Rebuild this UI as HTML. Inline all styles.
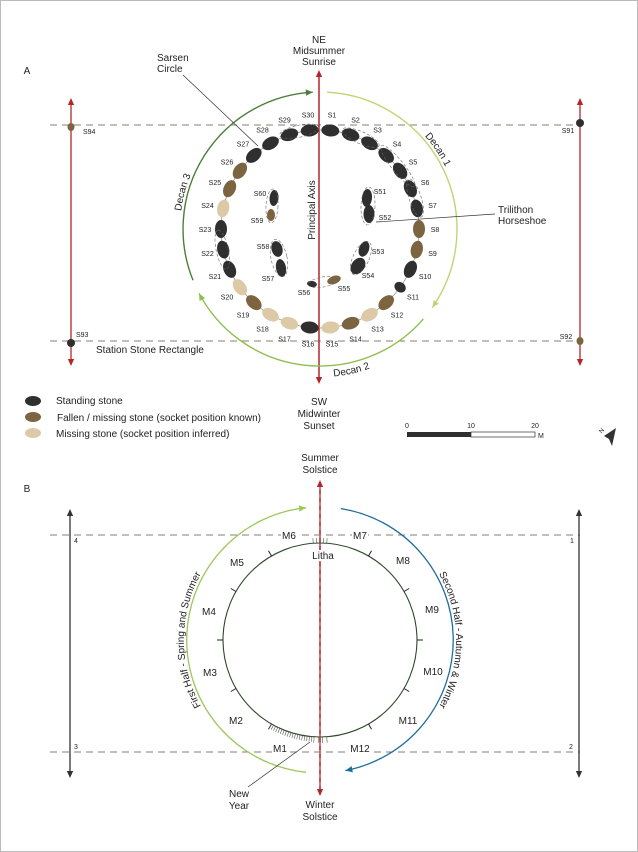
<!DOCTYPE html>
<html><head><meta charset="utf-8"><style>
html,body{margin:0;padding:0;background:#fff}
svg{display:block}
text{font-family:"Liberation Sans",Arial,sans-serif;fill:#222}
</style></head><body>
<svg id="s" width="638" height="852" viewBox="0 0 638 852" xmlns="http://www.w3.org/2000/svg">
<rect x="0.5" y="0.5" width="637" height="851" fill="#fff" stroke="#bbb"/>
<defs>
<path id="d3" d=""/><path id="d1" d=""/><path id="d2" d=""/><path id="h1" d=""/><path id="h2" d=""/>
</defs>
<g id="g"></g>
</svg>
<script>
var NS="http://www.w3.org/2000/svg",G=document.getElementById('g');
function el(t,a,txt){var e=document.createElementNS(NS,t);for(var k in a)e.setAttribute(k,a[k]);if(txt!=null)e.textContent=txt;G.appendChild(e);return e;}
function P(cx,cy,r,a){a=a*Math.PI/180;return [cx+r*Math.sin(a),cy-r*Math.cos(a)];}
function arcD(cx,cy,r,a0,a1){var p=P(cx,cy,r,a0),q=P(cx,cy,r,a1);var sw=a1>a0?1:0;var lg=Math.abs(a1-a0)>180?1:0;return "M"+p[0].toFixed(1)+" "+p[1].toFixed(1)+" A"+r+" "+r+" 0 "+lg+" "+sw+" "+q[0].toFixed(1)+" "+q[1].toFixed(1);}
function arrowHead(x,y,dx,dy,c,s){s=s||6;var L=Math.hypot(dx,dy);dx/=L;dy/=L;var nx=-dy,ny=dx;
 el('polygon',{points:[x,y,x-dx*s+nx*s*0.45,y-dy*s+ny*s*0.45,x-dx*s-nx*s*0.45,y-dy*s-ny*s*0.45].join(' '),fill:c});}
function arcArrow(cx,cy,r,a0,a1,c,w){el('path',{d:arcD(cx,cy,r,a0,a1),fill:'none',stroke:c,'stroke-width':w||1.3});
 var q=P(cx,cy,r,a1),a=a1*Math.PI/180,s=a1>a0?1:-1;arrowHead(q[0],q[1],s*Math.cos(a),s*Math.sin(a),c,7);}
function line(x1,y1,x2,y2,c,w,da){var o={x1:x1,y1:y1,x2:x2,y2:y2,stroke:c,'stroke-width':w||1};if(da)o['stroke-dasharray']=da;el('line',o);}
function txt(x,y,s,fs,anc,extra){var o={x:x,y:y,'font-size':fs||10,'text-anchor':anc||'middle'};for(var k in extra)o[k]=extra[k];return el('text',o,s);}
var RED='#b3272b',DASH='#8b7d70',DK='#2f2f2f',BR='#7d6440',TN='#dcc9a6';
// ===== A =====
txt(27,74,'A',10,'middle');
line(50,125,580,125,DASH,1,'7 5');line(50,341,580,341,DASH,1,'7 5');
[71,580].forEach(function(x){line(x,104,x,360,RED,1.3);arrowHead(x,98,0,-1,RED,7);arrowHead(x,366,0,1,RED,7);});
line(319,76,319,378,RED,1.5);arrowHead(319,70,0,-1,RED,7);arrowHead(319,384,0,1,RED,7);
txt(319,43,'NE',10);txt(319,54,'Midsummer',10);txt(319,65,'Sunrise',10);
txt(319,405,'SW',10);txt(319,417,'Midwinter',10);txt(319,429,'Sunset',10);
txt(315,210,'Principal Axis',10,'middle',{transform:'rotate(-90 315 210)'});
el('ellipse',{cx:71,cy:127,rx:3.5,ry:4,fill:BR});txt(83,134,'S94',7,'start');
el('ellipse',{cx:580,cy:123,rx:4,ry:4,fill:DK});txt(568,133,'S91',7,'middle');
el('ellipse',{cx:71,cy:343,rx:4,ry:4,fill:DK});txt(76,337,'S93',7,'start');
el('ellipse',{cx:580,cy:341,rx:3.5,ry:4,fill:BR});txt(566,339,'S92',7,'middle');
txt(96,353,'Station Stone Rectangle',10,'start');
var cx=320,cy=229;
arcArrow(cx,cy,137,248,357,'#4e7d3b',1.4);
arcArrow(cx,cy,137,3,125,'#bcd672',1.4);
arcArrow(cx,cy,137,131,242,'#8fbf52',1.4);
function tp(id,d,s,fs,off){document.getElementById(id).setAttribute('d',d);var t=el('text',{'font-size':fs||10});var p=document.createElementNS(NS,'textPath');p.setAttributeNS('http://www.w3.org/1999/xlink','href','#'+id);p.setAttribute('href','#'+id);p.setAttribute('startOffset',off||'50%');p.setAttribute('text-anchor','middle');p.textContent=s;t.appendChild(p);}
tp('d3',arcD(cx,cy,140,250,320),'Decan 3',10);
tp('d1',arcD(cx,cy,140,25,87),'Decan 1',10);
tp('d2',arcD(cx,cy,148,200,135),'Decan 2',10);
el('circle',{cx:cx,cy:cy,r:99,fill:'none',stroke:'#888','stroke-width':0.7});
var types='DDDDDDDBBDDBTBTDTTBTDDDTBBDDDD';
for(var i=1;i<=30;i++){var a=(i-0.5)*12,p=P(cx,cy,99,a),t=types[i-1];
 var col=t=='D'?DK:t=='B'?BR:TN;
 el('ellipse',{cx:p[0].toFixed(1),cy:p[1].toFixed(1),rx:(i==11)?5:9,ry:6,fill:col,transform:'rotate('+a+' '+p[0].toFixed(1)+' '+p[1].toFixed(1)+')'});
 var q=P(cx,cy,115,a);txt(q[0].toFixed(1),(q[1]+3).toFixed(1),'S'+i,7);
}
[[2,3],[4,5.5],[6,7],[21.5,22.5],[29,30]].forEach(function(r){var a=(r[0]+r[1])/2*12-6,p=P(cx,cy,100,a);el('ellipse',{cx:p[0],cy:p[1],rx:(r[1]-r[0])*12+8,ry:6,fill:'none',stroke:'#666','stroke-width':0.6,'stroke-dasharray':'3 2',transform:'rotate('+a+' '+p[0]+' '+p[1]+')'});});
function st(x,y,rx,ry,rot,c){el('ellipse',{cx:x,cy:y,rx:rx,ry:ry,fill:c,transform:'rotate('+rot+' '+x+' '+y+')'});}
function dash(x,y,rx,ry,rot){el('ellipse',{cx:x,cy:y,rx:rx,ry:ry,fill:'none',stroke:'#666','stroke-width':0.6,'stroke-dasharray':'3 2',transform:'rotate('+rot+' '+x+' '+y+')'});}
st(367,198,5,9,5,DK);st(369,214,5.5,9,0,DK);dash(368,206,7,19,2);
st(364,249,5,8,20,DK);st(358,266,6.5,9,35,DK);dash(361,258,8,18,25);
st(334,280,7,4,-20,BR);st(312,284,5,3,10,DK);dash(323,282,15,5,-10);
st(281,268,5,9,-10,DK);st(277,249,5.5,8,-15,DK);dash(279,258,8,19,-12);
st(271,215,4,6,0,BR);st(274,198,4.5,8,5,DK);dash(272,206,6,17,3);
[['S51',380,194],['S52',385,220],['S53',378,254],['S54',368,278],['S55',344,291],['S56',304,295],['S57',268,281],['S58',263,249],['S59',257,223],['S60',260,196]].forEach(function(s){txt(s[1],s[2],s[0],7);});
txt(157,61,'Sarsen',10,'start');txt(157,72,'Circle',10,'start');line(183,75,258,146,'#333',0.7);
txt(498,213,'Trilithon',10,'start');txt(498,224,'Horseshoe',10,'start');line(376,222,495,214,'#333',0.7);
el('ellipse',{cx:33,cy:401,rx:8,ry:5,fill:DK});txt(56,404,'Standing stone',10,'start');
el('ellipse',{cx:33,cy:417,rx:8,ry:5,fill:BR});txt(57,421,'Fallen / missing stone (socket position known)',10,'start');
el('ellipse',{cx:33,cy:433,rx:8,ry:5,fill:TN});txt(56,437,'Missing stone (socket position inferred)',10,'start');
el('rect',{x:407,y:432,width:64,height:5,fill:DK});el('rect',{x:471,y:432,width:64,height:5,fill:'#fff',stroke:'#333','stroke-width':0.7});
txt(407,428,'0',7);txt(471,428,'10',7);txt(535,428,'20',7);txt(538,438,'M',7,'start');
el('polygon',{points:'604,436 616,428 612,446 609,439',fill:'#333'});txt(603,432,'N',6,'middle',{transform:'rotate(-50 603 432)'});
// ===== B =====
txt(27,492,'B',10);
line(50,535,580,535,DASH,1,'7 5');line(50,752,580,752,DASH,1,'7 5');
[70,579].forEach(function(x){line(x,514,x,773,'#333',1.3);arrowHead(x,509,0,-1,'#333',7);arrowHead(x,778,0,1,'#333',7);});
txt(76,543,'4',7);txt(572,543,'1',7);txt(76,749,'3',7);txt(571,749,'2',7);
line(320,486,320,790,RED,1.6);line(320,486,320,790,'#e9a0a0',0.6,'4 4');arrowHead(320,480,0,-1,RED,7);arrowHead(320,796,0,1,RED,7);
txt(320,461,'Summer',10);txt(320,473,'Solstice',10);
txt(320,808,'Winter',10);txt(320,820,'Solstice',10);
var bx=320,by=640;
el('circle',{cx:bx,cy:by,r:97,fill:'none',stroke:'#2d4a27','stroke-width':1.1});
for(var k=1;k<12;k++){if(k==6)continue;var a=k*30,p=P(bx,by,97,a),q=P(bx,by,103,a);line(p[0],p[1],q[0],q[1],'#222',1);}
for(var a=150;a<=176;a+=1.4){var p=P(bx,by,97,360-a),q=P(bx,by,102,360-a);line(p[0],p[1],q[0],q[1],'#555',0.6);}
for(var a=-4;a<=4;a+=2){var p=P(bx,by,97,a),q=P(bx,by,102,a);line(p[0],p[1],q[0],q[1],'#555',0.6);}
for(var a=176;a<=184;a+=2.5){var p=P(bx,by,97,a),q=P(bx,by,103,a);line(p[0],p[1],q[0],q[1],'#555',0.6);}
arcArrow(bx,by,133,186,354,'#9dc75a',1.3);
arcArrow(bx,by,133,9,169,'#1f6f9c',1.3);
tp('h1',arcD(bx,by,136,195,345),'First Half - Spring and Summer',10);
tp('h2',arcD(bx,by,136,15,165),'Second Half - Autumn & Winter',10);
[['M6',289,539],['M7',360,539],['M5',237,566],['M8',403,564],['M4',209,615],['M9',432,613],['M3',210,676],['M10',433,675],['M2',236,724],['M11',408,724],['M1',280,752],['M12',360,752],['Litha',323,559]].forEach(function(s){
 var w=s[0].length*6+4;el('rect',{x:s[1]-w/2,y:s[2]-9,width:w,height:11,fill:'#fff'});txt(s[1],s[2],s[0],10);});
line(248,787,310,742,'#333',0.7);
txt(239,797,'New',10);txt(239,809,'Year',10);
</script>
</body></html>
